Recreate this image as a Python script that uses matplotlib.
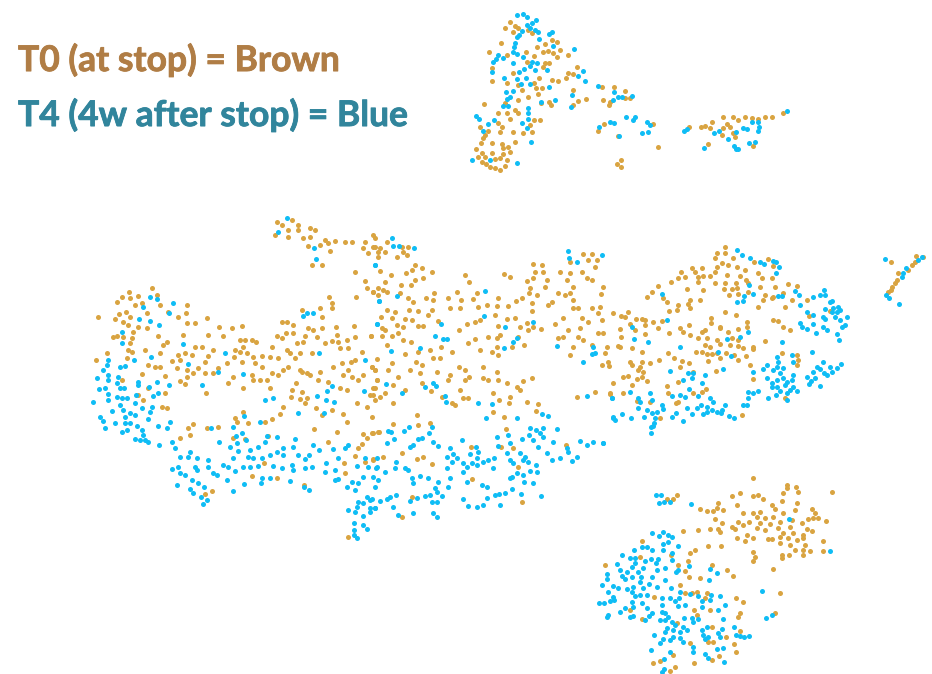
import numpy as np
import matplotlib
matplotlib.use("Agg")
import matplotlib.pyplot as plt
import matplotlib.patheffects as pe

title_t0 = "T0 (at stop) = Brown"
title_t4 = "T4 (4w after stop) = Blue"

t0_top = [(510,22),(505,28),(515,26),(518,28),(513,32),(528,30),(532,33),(501,43),(545,44),(552,40),(557,42),(537,47),(548,51),(543,52),(553,53),(560,50),(557,57),(568,55),(489,52),(507,55),(526,52),(534,56),(527,62),(545,63),(549,63),(543,67),(492,68),(513,73),(568,73),(577,67),(566,78),(573,74),(492,81),(507,83),(539,78),(534,83),(536,88),(542,88),(552,80),(558,81),(518,85),(522,90),(538,94),(573,90),(518,100),(528,97),(549,102),(551,105),(541,103),(578,101),(586,99),(573,105),(484,104),(505,103),(498,113),(515,110),(518,113),(510,119),(507,113),(540,120),(534,120),(530,125),(498,123),(502,127),(480,127),(488,131),(513,132),(523,133),(532,132),(500,132),(485,135),(483,138),(515,142),(481,143),(492,143),(502,144),(508,147),(476,149),(503,148),(510,152),(482,153),(492,153),(503,154),(478,157),(485,157),(500,158),(482,162),(495,159),(507,160),(490,167),(495,168),(500,170),(505,166),(486,164),
(602,87),(614,87),(625,91),(603,100),(610,102),(609,105),(625,98),(630,98),(598,131),(604,124),(618,136),(653,124),(658,147),(621,160),(617,164),(621,167),
(689,127),(701,127),(705,126),(712,122),(710,128),(723,117),(733,117),(727,124),(723,128),(730,127),(738,120),(745,117),(752,118),(758,119),(765,117),(772,117),(783,113),(722,135),(735,137),(733,133),(708,144),(753,146)]

t4_top = [(517,15),(523,14),(527,17),(536,20),(532,23),(527,25),(530,28),(535,30),(538,32),(522,31),(519,35),(517,37),(552,32),(549,34),(539,39),(515,43),(514,47),(553,46),(574,49),(498,55),(513,52),(517,54),(503,58),(496,59),(493,62),(513,63),(523,57),(532,62),(537,63),(530,66),(524,69),(519,72),(535,70),(547,70),(492,72),(504,78),(517,79),(526,78),(521,84),(530,84),(549,87),(506,92),(513,91),(510,97),(507,99),(508,106),(503,106),(541,102),(555,100),(572,95),(571,107),(583,71),(578,76),(585,81),(528,108),(528,113),(476,116),(479,119),(494,120),(488,124),(528,119),(522,123),(527,128),(483,131),(531,142),(472,160),(490,160),(517,163),
(598,86),(614,92),(618,97),(622,97),(632,96),(613,100),(599,127),(610,122),(614,123),(626,117),(633,120),(635,117),(647,122),(650,125),(642,133),(648,132),(619,136),
(684,131),(687,129),(714,133),(719,131),(728,139),(736,132),(743,128),(747,129),(752,122),(758,122),(759,127),(758,131),(787,111),(704,148),(734,146),(736,149),(738,149),(749,143),(755,142)]

t0_left = [(277,222),(282,225),(292,220),(298,225),(275,235),(288,230),(288,237),(298,230),(310,228),(315,230),(310,237),(303,238),(325,240),(320,245),(328,243),(308,246),(335,241),(330,251),(345,242),(352,242),(322,265),(312,265),
(365,242),(373,235),(363,248),(373,247),(368,253),(378,252),(355,272),(365,281),(367,288),(373,292),(378,288),(356,297),
(152,288),(129,292),(122,297),(117,302),(130,298),(138,296),(157,295),(142,303),(135,305),(160,305),(126,312),(119,314),(98,317),(115,319),(130,317),(147,313),(123,322),(128,325),(138,327),(147,328),(133,332),(117,336),(123,337),(132,338),(113,337),(130,343),(158,336),(168,312),(178,317),(187,305),(186,313),(187,323),(195,323),(207,318),(183,335),(208,335),(219,327),(223,336),(232,328),(242,326),
(163,345),(167,342),(160,353),(145,350),(128,350),(132,352),(107,353),(96,360),(127,358),(148,365),(155,367),(160,367),(172,361),(178,355),(185,353),(192,355),(195,347),(202,347),(213,350),(208,356),(177,368),(180,360),(187,370),(198,368),(205,362),(193,373),(205,373),(213,373),(218,368),(142,374),(165,376),(180,381),(185,384),(187,377),(122,380),(148,388),(165,393),(206,393),(138,395),(143,400),(162,407),(167,408),
(228,383),(233,377),(243,388),(253,380),(252,375),(260,380),(262,356),(272,347),(277,336),(282,322),(287,322),(293,325),(282,338),(286,333),(293,333),(240,340),(245,340),(243,347),(252,340),(256,342),(240,352),(235,350),(247,353),(253,357),(255,363),(227,363),(234,357),(242,362),(270,357),(278,358),(262,367),(272,373),(283,370),(288,367),(278,375),(300,370),(307,373),(297,343),(303,342),(287,350),(290,353),(295,358),(300,353),(312,353),(308,328),(313,330),(322,328),(317,337),(305,336),(325,343),(332,341),(338,342),(347,340),(337,335),(348,348),(340,348),(355,337),(354,326),(336,327),(322,317),(320,308),(332,308),(332,303),(329,297),(302,310),
(270,388),(267,380),(243,412),(235,418),(237,422),(248,423),(272,419),(265,422),(280,414),(283,407),(292,390),(291,397),(302,392),(296,383),(300,399),(305,403),(307,398),(316,408),(322,415),(332,410),(343,414),(347,422),(372,417),(357,403),(367,407),(328,382),(318,380),(320,372),(302,372),(310,375),(333,367),(342,363),(351,362),(355,360),(348,370),(352,377),(343,375),(363,375),(358,380),(340,388),(347,390),(372,367),(375,370),(377,380),(373,388),(370,395),(375,400),(362,352),(371,336),(188,428),(193,424),(207,428),(218,427),(180,438),(190,435),(233,438),(245,439),(268,436),(314,429),(337,432),(363,434),(372,433),(378,432),(367,438),(328,442),(362,444),(358,448),(355,456),(365,462),(373,460),(264,463),(205,494),(212,491),(252,476),(277,478),(304,485),(345,473),(344,463),(348,537)]

t4_left = [(287,218),(278,232),(314,248),(316,259),(375,265),(379,301),(377,324),
(150,297),(157,299),(173,303),(143,307),(169,313),(139,319),(150,321),(159,325),(122,332),(122,343),(183,344),(151,357),(134,360),(225,353),(188,364),(218,372),(243,374),(202,385),(108,360),(107,365),(125,366),(120,367),(103,370),(108,375),(118,377),(97,378),(108,380),(138,382),(157,382),(169,385),(117,383),(99,389),(105,388),(120,388),(124,388),(138,385),(149,387),(158,393),(153,396),(108,394),(108,400),(117,397),(122,398),(127,398),(136,395),(93,402),(120,405),(123,410),(135,403),(142,408),(152,407),(112,411),(130,413),(135,415),(150,412),(100,417),(103,421),(125,417),(148,419),(115,423),(125,423),(130,423),(137,426),(158,426),(170,422),(105,428),(127,430),(167,428),(122,432),(142,430),(143,435),(135,439),(140,440),(148,442),(145,440),(159,445),(172,442),(175,448),
(180,457),(188,457),(190,452),(197,458),(208,460),(195,467),(208,467),(172,469),(178,467),(180,473),(185,475),(197,470),(213,473),(217,475),(227,480),(223,465),(228,467),(235,471),(243,467),(233,458),(177,485),(192,480),(198,483),(190,489),(204,487),(193,493),(201,497),(207,500),(203,504),(233,491),(244,484),(262,478),(270,478),(261,483),(290,481),(304,487),(309,490),
(219,442),(230,447),(233,427),(236,436),(242,433),(246,440),(237,443),(238,451),(250,450),(248,457),(253,458),(258,447),(265,442),(267,436),(277,437),(270,455),(262,458),(277,452),(283,455),(283,448),(293,447),(295,439),(298,455),(309,455),(313,445),(319,450),(305,459),(250,467),(258,466),(273,466),(282,468),(292,465),(293,470),(305,468),(312,467),(325,472),(326,463),(333,449),(345,448),(348,445),(338,458),(335,470),(335,480),(338,479),(347,487),(352,482),(355,490),(358,483),(363,477),(357,466),(368,467),(377,467),(373,477),(378,480),(375,487),(365,458),
(367,497),(370,500),(358,502),(363,503),(370,508),(375,508),(348,510),(355,512),(357,507),(363,516),(354,523),(363,525),(367,529),(354,530),(354,535),(357,538),
(265,400),(273,398),(298,413),(244,416),(260,422),(319,353),(365,360),(364,391),(332,386),(327,391),(326,400),(317,396),(334,402),(324,413),(303,316),(307,313),(313,313),(211,428)]

t0_mid = [(375,238),(387,242),(375,247),(380,248),(385,252),(378,257),(402,247),(408,247),(403,252),(407,255),(397,257),(415,265),(422,268),(432,272),(412,270),(406,273),(380,271),(391,275),(423,278),(415,280),(411,285),(385,282),(401,285),(383,290),(373,292),(387,292),(378,295),(400,293),(408,298),(413,302),(426,298),(434,293),(433,300),(448,298),(457,292),(461,300),(477,293),(473,299),(465,275),(469,282),(504,274),(510,277),
(533,264),(542,265),(543,272),(535,272),(533,278),(527,281),(530,288),(545,287),(547,280),(537,295),(529,293),(522,298),(516,301),(498,298),(508,306),(532,303),(532,311),(497,306),(495,315),(487,305),(478,307),(460,308),(450,308),(432,310),(428,315),(418,311),(409,310),(387,310),(395,312),(405,319),(412,320),(423,326),(418,326),(438,321),(381,317),(392,318),(397,325),(382,328),(385,330),(392,336),(403,327),(398,333),(371,336),(382,336),(403,340),(411,342),(387,345),(405,354),(418,352),(430,350),(433,358),(441,347),(440,358),(467,324),(475,322),(480,320),(459,330),(468,343),(475,339),(488,337),(480,350),(452,352),(498,326),(507,319),(515,318),(497,338),(500,335),(497,347),(492,352),(498,355),(512,347),(518,337),(524,345),(520,327),(527,323),(541,329),(533,327),(528,330),
(377,359),(372,367),(375,370),(392,363),(388,370),(410,370),(416,362),(422,365),(420,373),(437,372),(398,377),(393,385),(377,380),(375,388),(385,393),(380,397),(373,395),(393,403),(405,390),(422,383),(431,391),(459,367),(465,370),(450,375),(469,377),(465,380),(448,380),(460,390),(442,397),(452,403),(455,405),(468,398),(463,398),(483,367),(483,378),(488,380),(497,372),(507,383),(498,380),(517,387),(520,390),(523,381),(532,378),(493,393),(499,400),(510,397),(509,403),(527,402),(538,404),(536,411),(493,412),(504,417),(417,415),(418,425),(430,423),(393,424),(379,432),(373,433),(506,429),(402,453),(383,457),(373,459),(423,457),(417,459),(432,464),(472,479),(471,447),(501,447),(513,448),(518,467),(566,445),(522,502),(412,497),(402,517),
(577,397),(595,392),(610,393),(583,254),(592,254),(588,260),(597,260),(570,262),(595,267),(560,272),(582,272),(570,273),(567,280),(587,278),(592,280),(573,287),(565,295),(570,293),(558,293),(603,287),(601,294),(573,300),(552,302),(548,305),(578,308),(592,308),(600,307),(573,308),(613,313),(582,318),(563,318),(555,324),(598,313),(602,320),(588,322),(580,328),(568,330),(603,333),(598,333),(563,337),(558,338),(578,337),(583,340),(607,347),(573,347),(592,345),(618,346),(605,353),(570,355),(602,365),(608,362),(609,366)]

t4_mid = [(392,238),(393,246),(399,246),(414,248),(375,265),(485,291),(397,296),(379,301),(377,324),(441,324),(484,316),(533,322),(505,327),(435,336),(443,339),(447,339),(517,338),(513,342),(504,348),(420,348),(391,351),(557,346),(593,347),(592,354),(595,353),(583,362),(386,384),(402,393),(425,387),(433,383),(436,386),(445,396),(446,402),(478,403),(492,404),(486,418),(517,418),(542,414),(548,416),(587,396),(612,398),(613,418),(568,251),(569,258),(577,262),(602,255),
(404,431),(409,427),(388,431),(391,432),(394,439),(387,443),(432,427),(429,433),(433,442),(438,446),(422,438),(418,439),(410,447),(413,445),(377,458),(396,462),(405,468),(395,468),(376,468),(385,472),(408,470),(450,448),(462,440),(476,447),(453,454),(447,457),(457,458),(470,454),(478,452),(477,458),(463,463),(452,462),(447,468),(483,462),(494,458),(472,463),(488,460),(477,465),(493,468),(463,472),(467,467),(497,437),(508,435),(498,446),(510,443),(522,439),(507,453),(520,453),(510,460),(525,457),(513,463),(523,460),(528,462),(536,465),(530,428),(536,430),(543,428),(540,433),(557,429),(533,440),(543,437),(529,435),(553,442),(547,453),(538,447),(552,460),(560,458),(567,448),(568,452),(580,441),(587,445),(593,442),(603,443),(577,457),(572,461),(537,472),(530,471),(517,473),(512,477),(510,478),(523,475),(524,482),(533,483),(512,489),(505,493),(499,494),(495,495),(521,494),(541,496),(487,498),(483,505),(477,507),(468,506),(463,499),(500,505),
(438,482),(435,488),(442,496),(430,495),(437,492),(425,496),(432,502),(437,502),(450,478),(448,487),(467,482),(482,485),(487,487),(428,478),(420,476),(412,478),(413,483),(390,497),(387,499),(396,495),(410,501),(417,498),(413,513),(393,507),(398,515),(437,517),(433,513),(375,508),(372,499),(380,501),(370,512)]

t0_right = [(725,247),(717,253),(725,253),(715,258),(733,258),(722,263),(728,265),(737,267),(702,268),(692,268),(717,267),(681,272),(695,272),(745,270),(754,262),(758,273),(768,259),(773,266),(727,275),(715,272),(710,276),(703,276),(698,277),(678,278),(685,277),(740,276),(746,280),(762,278),(772,278),(671,282),(698,282),(715,283),(736,283),(725,283),(748,283),(658,286),(687,289),(703,290),(724,289),(732,289),(737,288),(760,287),(775,287),(788,284),(797,286),(652,292),(647,297),(729,295),(738,294),(748,292),(765,295),(773,297),(783,293),(763,300),(772,298),(700,300),(690,300),(663,298),(667,302),(792,300),(807,300),(678,305),(688,304),(785,307),(758,307),(677,310),(669,311),(690,308),(725,312),(736,315),(711,318),(809,316),(830,311),
(628,312),(621,316),(625,317),(636,319),(642,319),(645,320),(653,322),(662,321),(645,325),(630,324),(658,328),(680,328),(689,325),(711,323),(720,327),(747,322),(773,320),(778,321),(783,327),(790,330),(620,329),(635,330),(645,334),(669,333),(683,332),(690,335),(702,332),(705,330),(720,328),(728,332),(738,329),(747,327),(621,337),(698,338),(707,338),(717,340),(732,338),(738,340),(765,341),(620,347),(632,348),(705,345),(720,344),(730,345),(738,346),(743,348),(753,347),(710,347),(642,352),(668,353),(696,352),(702,352),(707,354),(712,354),(717,353),(726,353),(734,355),(746,356),(753,349),(782,353),(797,355),(659,360),(674,358),(682,361),(689,363),(708,361),(720,358),(738,360),(630,362),(642,362),(650,363),(632,365),(640,367),(680,367),(798,360),(797,365),(750,365),(638,370),(643,372),(716,371),(623,377),(628,376),(642,377),(637,379),(647,381),(693,372),(678,382),(613,383),(632,385),(667,386),(702,392),(706,389),(753,379),(610,394),(623,393),(668,393),(637,401),(678,402),(676,403),(785,398),(742,415),(660,418),(650,402),(693,393),
(891,262),(916,256),(923,257),(915,262),(912,265),(908,270),(898,273),(897,280),(895,283),(892,287),(891,290),(888,292)]

t4_right = [(737,250),(742,255),(750,258),(760,262),(764,264),(773,261),(776,262),(779,267),(776,273),(749,285),(753,294),(744,296),(743,301),(737,302),(662,294),(778,296),(782,296),(795,291),(799,295),(800,305),(813,297),(820,295),(824,290),(825,295),(832,301),(830,302),(833,308),(838,307),(837,312),(832,312),(840,310),(835,317),(847,317),(840,320),(845,325),(842,327),(825,309),(807,312),(813,315),(823,317),(825,319),(800,323),(802,327),(807,329),(813,324),(823,327),(827,330),(816,333),(837,334),(839,340),(782,342),(667,320),(632,327),(634,339),(648,342),(748,332),(740,337),(727,339),(680,347),(718,352),(731,356),(723,369),(812,352),
(777,357),(792,355),(793,362),(778,362),(823,362),(767,365),(763,369),(773,370),(777,367),(783,368),(753,372),(767,378),(780,373),(793,375),(817,367),(820,369),(830,367),(841,364),(837,368),(832,372),(824,373),(813,372),(807,377),(815,378),(811,381),(827,375),(783,378),(792,380),(787,382),(777,380),(772,383),(785,385),(777,387),(772,387),(820,386),(809,384),(793,387),(790,390),(797,391),(780,391),(776,395),(787,393),(787,400),(768,398),(748,392),(758,391),(753,393),(748,398),(743,405),(747,405),
(670,371),(688,373),(693,373),(705,375),(692,378),(683,380),(702,383),(689,389),(630,392),(612,398),(638,398),(640,402),(650,393),(672,396),(680,395),(685,397),(698,396),(710,398),(652,400),(638,408),(647,410),(652,413),(657,412),(662,405),(663,409),(701,405),(707,407),(713,402),(697,408),(687,408),(712,410),(717,412),(725,405),(722,410),(707,412),(721,413),(729,416),(734,418),(703,414),(692,414),(676,413),(672,417),(683,421),(613,417),(615,420),(622,414),(631,418),(644,417),(655,418),(654,423),(653,426),(651,427),(651,433),(603,443),
(885,259),(922,257),(918,260),(906,268),(903,273),(902,277),(886,295),(889,298),(899,304)]

t0_low = [(753,478),(787,485),(796,487),(787,488),(798,492),(832,492),(783,493),(740,493),(732,496),(753,496),(758,495),(763,499),(782,501),(667,499),(677,495),(673,499),(718,503),(797,503),(737,505),(772,505),(775,509),(717,508),(700,509),(707,511),(723,510),(713,511),(795,510),(812,509),(743,513),(753,513),(760,512),(765,518),(773,517),(783,513),(815,513),(818,518),(826,521),(808,519),(813,518),(715,519),(722,523),(738,522),(749,522),(757,517),(760,523),(770,524),(780,522),(792,520),(802,523),(732,527),(743,525),(757,528),(765,530),(778,528),(790,527),(807,529),(683,531),(698,530),(710,529),(718,529),(735,529),(720,532),(747,535),(783,533),(793,533),(803,535),(812,531),(753,538),(768,539),(772,539),(780,537),(788,538),(797,540),(803,538),(737,538),(745,541),(823,541),(642,541),(780,543),(790,545),(805,545),(708,546),(721,546),(795,550),(803,550),(810,551),(823,551),(695,550),(690,553),(753,552),(755,557),(789,555),(782,555),(803,555),(753,561),(782,558),(671,555),(640,557),(688,561),(605,565),(678,565),(712,565),(773,569),(685,571),(727,570),(689,577),(700,578),(733,576),(680,585),(685,593),(692,593),(697,592),(707,593),(654,597),(736,598),(780,593),(743,602),(705,598),(630,610),(694,610),(710,610),(697,615),(642,619),(740,613),(738,617),(775,613),(677,623),(712,627),(740,631),(726,637),(708,642),(690,643),(713,642),(734,644),(736,652),(673,655),(719,656),(712,660),(694,663),(660,661),(653,663),(670,671),(675,667)]

t4_low = [(656,495),(661,495),(659,503),(664,502),(670,502),(691,504),(789,519),(830,551),(652,533),(659,536),(663,532),(668,535),(672,537),(668,542),(663,544),(678,546),(634,550),(642,547),(647,547),(652,550),(663,550),(672,553),(622,555),(630,558),(635,558),(645,561),(651,559),(658,559),(672,560),(617,564),(635,563),(656,563),(678,570),(689,566),(665,568),(620,570),(632,567),(643,568),(627,572),(638,572),(657,570),(676,572),(710,569),(717,573),(607,574),(622,576),(632,577),(641,577),(652,577),(665,580),(607,579),(625,579),(640,582),(649,584),(709,580),(602,585),(613,586),(618,588),(633,587),(643,588),(657,587),(671,588),(627,589),(632,592),(608,592),(647,595),(640,595),(635,596),(613,597),(610,601),(614,600),(599,603),(604,603),(632,602),(642,603),(662,598),(670,598),(680,592),(690,594),(698,596),(711,595),(720,596),(762,591),(675,601),(679,598),(685,605),(662,605),(678,606),(702,601),(710,600),(725,605),(633,607),(625,608),(620,612),(647,608),(662,612),(702,607),(718,610),(608,615),(630,617),(633,616),(652,613),(665,613),(607,617),(649,616),(645,620),(668,617),(684,618),(692,618),(698,619),(723,619),(766,618),(772,615),(660,620),(665,620),(672,622),(675,625),(693,622),(667,628),(683,627),(702,630),(707,627),(734,627),(722,629),(665,632),(673,630),(680,632),(687,630),(654,635),(703,635),(708,637),(718,633),(736,635),(740,636),(744,637),(749,636),(673,637),(680,638),(663,639),(670,640),(705,639),(720,637),(660,643),(683,642),(693,647),(717,649),(723,648),(651,650),(670,652),(693,652),(705,654),(708,658),(664,659),(724,662),(662,672),(664,669)]

t0 = np.array(t0_top + t0_left + t0_mid + t0_right + t0_low, dtype=float)
t4 = np.array(t4_top + t4_left + t4_mid + t4_right + t4_low, dtype=float)

fig = plt.figure(figsize=(9.32, 6.74), dpi=100, facecolor="white")
ax = fig.add_axes([0, 0, 1, 1])
ax.set_xlim(0, 932)
ax.set_ylim(674, 0)
ax.axis("off")

ax.scatter(t0[:, 0], t0[:, 1], s=13, color="#D9A441", linewidths=0, zorder=2)
ax.scatter(t4[:, 0], t4[:, 1], s=13, color="#0FBDF5", linewidths=0, zorder=3)

stroke_t0 = [pe.withStroke(linewidth=0.6, foreground="#B07D45")]
stroke_t4 = [pe.withStroke(linewidth=0.6, foreground="#31859C")]
ax.text(18, 60.5, title_t0, family="Lato", weight="bold", fontsize=25.5,
        color="#B07D45", va="center", ha="left", path_effects=stroke_t0)
ax.text(18, 115.5, title_t4, family="Lato", weight="bold", fontsize=25.5,
        color="#31859C", va="center", ha="left", path_effects=stroke_t4)

fig.savefig("out.png", dpi=100)
